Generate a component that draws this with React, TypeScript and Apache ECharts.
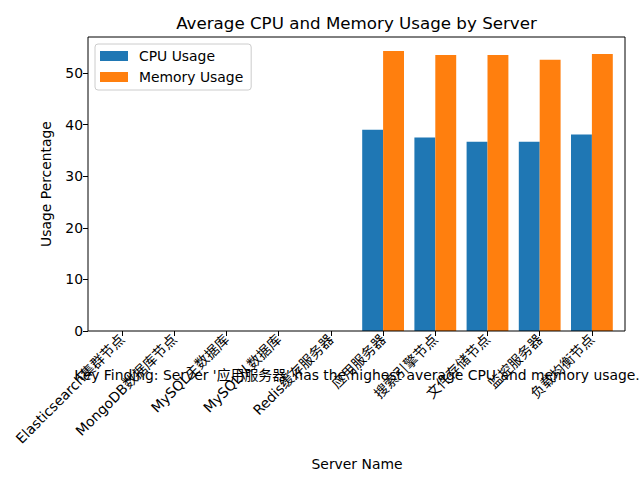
import React, { useEffect, useRef } from "react";
import * as echarts from "echarts";

const servers = [
  "Elasticsearch集群节点",
  "MongoDB数据库节点",
  "MySQL主数据库",
  "MySQL从数据库",
  "Redis缓存服务器",
  "应用服务器",
  "搜索引擎节点",
  "文件存储节点",
  "监控服务器",
  "负载均衡节点",
];
const cpuUsage = [0, 0, 0, 0, 0, 39.0, 37.5, 36.7, 36.7, 38.1];
const memoryUsage = [0, 0, 0, 0, 0, 54.3, 53.5, 53.5, 52.6, 53.7];
const yTicks = [0, 10, 20, 30, 40, 50];
const topServer = servers[5];

const FONT = "DejaVu Sans";

export default function App() {
  const ref = useRef<HTMLDivElement>(null);
  useEffect(() => {
    if (!ref.current) return;
    const chart = echarts.init(ref.current, undefined, { renderer: "svg" });
    chart.setOption({
      animation: false,
      textStyle: { fontFamily: FONT },
      grid: { left: 96, right: 22, top: 37, bottom: 149, containLabel: false },
      legend: {
        orient: "vertical",
        left: 95,
        top: 44,
        padding: [4, 8, 5, 5],
        itemGap: 5,
        itemWidth: 28,
        itemHeight: 10,
        borderColor: "#cccccc",
        borderWidth: 1,
        borderRadius: 3,
        backgroundColor: "rgba(255,255,255,0.8)",
        textStyle: { fontSize: 13.9, color: "#000", lineHeight: 16, fontFamily: FONT, padding: [0, 0, 0, 6] },
        icon: "rect",
        data: ["CPU Usage", "Memory Usage"],
      },
      xAxis: {
        type: "category",
        data: servers,
        axisLine: { show: false },
        axisTick: { show: true, alignWithLabel: true, length: 5, lineStyle: { color: "#000", width: 1 } },
        axisLabel: {
          rotate: 45,
          interval: 0,
          margin: 6,
          fontSize: 13.9,
          color: "#000",
          fontFamily: FONT + ", Noto Sans CJK SC",
        },
        name: "Server Name",
        nameLocation: "middle",
        nameGap: 126,
        nameTextStyle: { fontSize: 13.9, color: "#000", fontFamily: FONT },
      },
      yAxis: {
        type: "value",
        min: 0,
        max: 57,
        interval: 10,
        offset: 8,
        splitLine: { show: false },
        axisLine: { show: false },
        axisTick: { show: true, length: 5, lineStyle: { color: "#000", width: 1 }, customValues: yTicks },
        axisLabel: { fontSize: 13.9, color: "#000", margin: 5, customValues: yTicks, fontFamily: FONT },
        name: "Usage Percentage",
        nameLocation: "middle",
        nameGap: 35,
        nameTextStyle: { fontSize: 13.9, color: "#000", fontFamily: FONT },
      },
      series: [
        {
          name: "CPU Usage",
          type: "bar",
          data: cpuUsage,
          itemStyle: { color: "#1f77b4" },
          barWidth: 20.9,
          barGap: "0%",
        },
        {
          name: "Memory Usage",
          type: "bar",
          data: memoryUsage,
          itemStyle: { color: "#ff7f0e" },
          barWidth: 20.9,
          barGap: "0%",
        },
      ],
      graphic: [
        {
          type: "rect",
          shape: { x: 88, y: 37, width: 537, height: 294 },
          style: { fill: "none", stroke: "#000", lineWidth: 1 },
          z: 10,
          silent: true,
        },
        {
          type: "text",
          x: 356.5,
          y: 23,
          style: {
            text: "Average CPU and Memory Usage by Server",
            fontSize: 16.7,
            fill: "#000",
            fontFamily: FONT,
            textAlign: "center",
            textVerticalAlign: "middle",
          },
        },
        {
          type: "text",
          x: 357,
          y: 375,
          z: 20,
          style: {
            text: `Key Finding: Server '${topServer}' has the highest average CPU and memory usage.`,
            fontSize: 13.9,
            fill: "#000",
            fontFamily: FONT + ", Noto Sans CJK SC",
            textAlign: "center",
            textVerticalAlign: "middle",
          },
        },
      ],
    });
    return () => chart.dispose();
  }, []);
  return (
    <div
      ref={ref}
      style={{ position: "absolute", left: 0, top: 0, width: 640, height: 480, background: "#fff" }}
    />
  );
}
